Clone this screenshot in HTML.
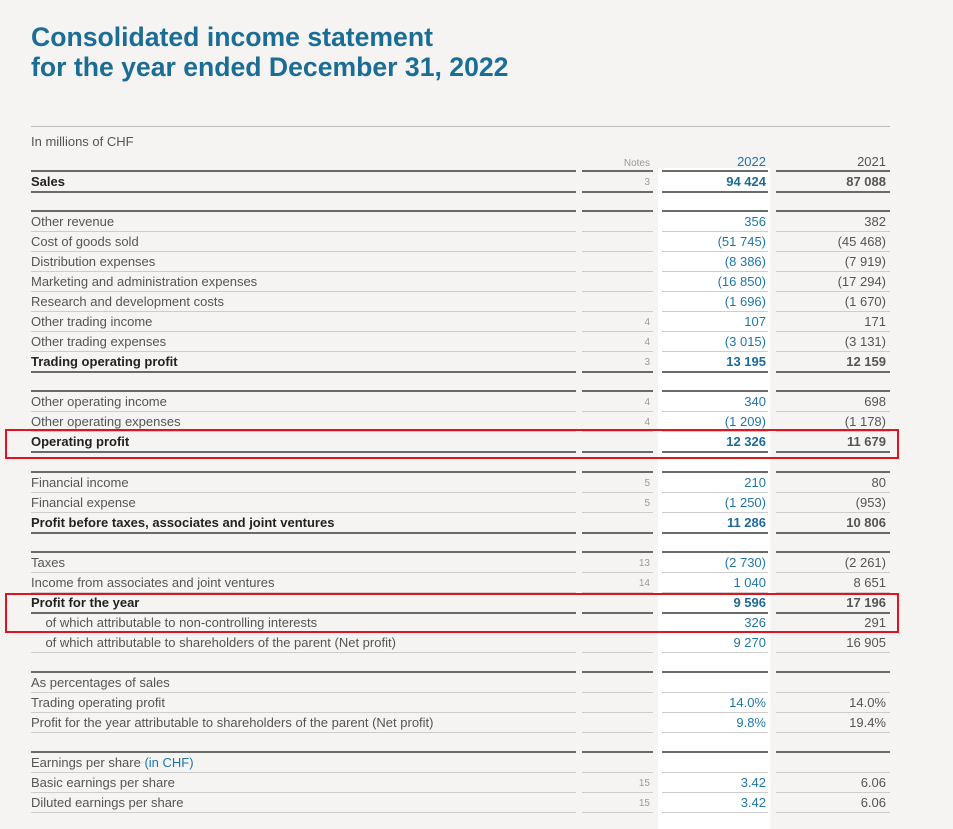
<!DOCTYPE html><html><head><meta charset="utf-8"><style>
body{margin:0;width:953px;height:829px;background:#f5f4f2;position:relative;overflow:hidden;font-family:"Liberation Sans Narrow","Liberation Sans",sans-serif;font-size:13px;color:#555}
.a{position:absolute;white-space:nowrap;line-height:16px}
h1{position:absolute;left:31px;top:22px;margin:0;font-family:"Liberation Sans",sans-serif;font-size:26.6px;line-height:30px;color:#1b6d95;font-weight:bold}
.l{position:absolute;height:1px;background:#cfcdcb}
.t{position:absolute;height:2px;background:#6a6a6a}
.b{font-weight:bold;color:#222}
.bl{color:#1f76a6}
.r{text-align:right}
</style></head><body>
<h1>Consolidated income statement<br>for the year ended December 31, 2022</h1>
<div class="l" style="left:31px;top:126px;width:859px;background:#bbb"></div>
<div class="a" style="left:31px;top:134px">In millions of CHF</div>
<div style="position:absolute;left:658px;top:168px;width:112px;height:661px;background:#fff"></div>
<div id="c"></div>
<div style="position:absolute;left:5px;top:429px;width:890px;height:26px;border:2px solid #e0141e"></div>
<div style="position:absolute;left:5px;top:593px;width:890px;height:36px;border:2px solid #e0141e"></div>
<script>
var cols=[[31,545],[582,71],[662,106],[776,114]];
var H='';
function line(y,thick){cols.forEach(function(c){H+='<div class="'+(thick?'t':'l')+'" style="left:'+c[0]+'px;top:'+y+'px;width:'+c[1]+'px"></div>'});}
function txt(x,y,s,cls){H+='<div class="a '+(cls||'')+'" style="left:'+x+'px;top:'+(y-7)+'px">'+s+'</div>';}
H+='<div class="a r" style="left:582px;top:156px;width:68px;font-size:10px;color:#999">Notes</div>';
H+='<div class="a r bl" style="left:662px;top:154px;width:104px">2022</div>';
H+='<div class="a r" style="left:776px;top:154px;width:110px">2021</div>';
var rows=[
[170,'T'],[181,'Sales','3','94 424','87 088',1],
[210,'T'],[221,'Other revenue','','356','382'],[241,'Cost of goods sold','','(51 745)','(45 468)'],[261,'Distribution expenses','','(8 386)','(7 919)'],[281,'Marketing and administration expenses','','(16 850)','(17 294)'],[301,'Research and development costs','','(1 696)','(1 670)'],[321,'Other trading income','4','107','171'],[341,'Other trading expenses','4','(3 015)','(3 131)'],[361,'Trading operating profit','3','13 195','12 159',1],
[390,'T'],[401,'Other operating income','4','340','698'],[421,'Other operating expenses','4','(1 209)','(1 178)'],[441,'Operating profit','','12 326','11 679',1],
[471,'T'],[482,'Financial income','5','210','80'],[502,'Financial expense','5','(1 250)','(953)'],[522,'Profit before taxes, associates and joint ventures','','11 286','10 806',1],
[551,'T'],[562,'Taxes','13','(2 730)','(2 261)'],[582,'Income from associates and joint ventures','14','1 040','8 651'],[602,'Profit for the year','','9 596','17 196',1],[622,'&nbsp;&nbsp;&nbsp;&nbsp;of which attributable to non-controlling interests','','326','291'],[642,'&nbsp;&nbsp;&nbsp;&nbsp;of which attributable to shareholders of the parent (Net profit)','','9 270','16 905'],
[671,'T'],[682,'As percentages of sales','','',''],[702,'Trading operating profit','','14.0%','14.0%'],[722,'Profit for the year attributable to shareholders of the parent (Net profit)','','9.8%','19.4%'],
[751,'T'],[762,'Earnings per share <span style="color:#1f76a6">(in CHF)</span>','','',''],[782,'Basic earnings per share','15','3.42','6.06'],[802,'Diluted earnings per share','15','3.42','6.06']
];
rows.forEach(function(r,i){
 if(r[1]=='T'){line(r[0],1);return;}
 var y=r[0],b=r[5];
 txt(31,y,r[1],b?'b':'');
 H+='<div class="a r" style="left:582px;top:'+(y-6)+'px;width:68px;font-size:10px;color:#999">'+r[2]+'</div>';
 H+='<div class="a r bl'+(b?' b" style="color:#1f6a97;':'" style="')+'left:662px;top:'+(y-7)+'px;width:104px">'+r[3]+'</div>';
 H+='<div class="a r'+(b?' b" style="color:#555;':'" style="')+'left:776px;top:'+(y-7)+'px;width:110px">'+r[4]+'</div>';
 line(y+10,b?1:0);
});
document.getElementById('c').innerHTML=H;
</script>
</body></html>
